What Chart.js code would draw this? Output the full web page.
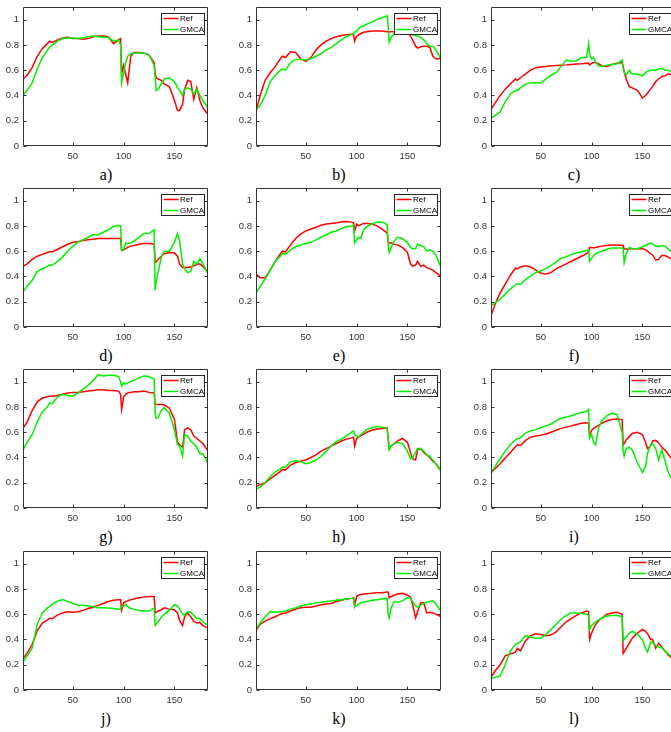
<!DOCTYPE html>
<html lang="en">
<head>
<meta charset="UTF-8">
<title>Ref vs GMCA spectra</title>
<script src="https://cdn.jsdelivr.net/npm/chart.js@4"></script>
<style>
  html, body { margin: 0; padding: 0; background: #fff; overflow: hidden; }
  #fig { position: relative; width: 671px; height: 732px; overflow: hidden; }
  .cell { position: absolute; }
  .tag { position: absolute; width: 40px; text-align: center; color: #000;
         font: 16px "Liberation Serif", "Times New Roman", serif; line-height: 16px; }
</style>
</head>
<body>
<div id="fig"></div>
<script>
// band index (x) shared by all panels
const bands = [1, 5, 10, 15, 20, 25, 27, 30, 35, 40,
  45, 50, 55, 60, 65, 70, 75, 80, 85, 90,
  95, 97, 98, 100, 102, 104, 107, 110, 115, 120,
  125, 130, 131, 132, 134, 137, 140, 145, 150, 153,
  155, 158, 160, 163, 166, 169, 172, 175, 178, 183]

const xTicks = [50, 100, 150]
const yTicks = [0, 0.2, 0.4, 0.6, 0.8, 1]
const legendLabels = ["Ref", "GMCA"]
const tags = ["a)", "b)", "c)", "d)", "e)", "f)", "g)", "h)", "i)", "j)", "k)", "l)"]

const aRef = [0.53,0.56,0.62,0.71,0.77,0.81,0.83,0.82,0.84,0.855, 0.86,0.85,0.85,0.845,0.85,0.865,0.87,0.87,0.865,0.81, 0.84,0.85,0.57,0.64,0.57,0.50,0.71,0.74,0.74,0.735, 0.72,0.66,0.57,0.54,0.53,0.52,0.49,0.47,0.36,0.28, 0.28,0.33,0.45,0.52,0.51,0.37,0.46,0.36,0.30,0.25]
const aGmca = [0.40,0.44,0.50,0.61,0.70,0.76,0.78,0.80,0.83,0.85, 0.855,0.855,0.85,0.855,0.865,0.87,0.865,0.86,0.86,0.83, 0.84,0.80,0.50,0.58,0.66,0.71,0.73,0.735,0.735,0.735, 0.72,0.64,0.55,0.44,0.45,0.49,0.53,0.54,0.51,0.46, 0.44,0.40,0.45,0.46,0.45,0.41,0.45,0.40,0.36,0.30]

const bRef = [0.27,0.40,0.52,0.58,0.63,0.69,0.71,0.70,0.745,0.74, 0.69,0.67,0.70,0.76,0.80,0.83,0.85,0.865,0.875,0.88, 0.885,0.88,0.83,0.87,0.88,0.89,0.90,0.905,0.91,0.91, 0.91,0.905,0.905,0.905,0.905,0.905,0.905,0.905,0.90,0.87, 0.84,0.79,0.775,0.785,0.79,0.79,0.78,0.71,0.69,0.69]
const bGmca = [0.29,0.32,0.40,0.51,0.56,0.60,0.61,0.60,0.66,0.685, 0.685,0.68,0.69,0.71,0.73,0.76,0.78,0.81,0.84,0.865, 0.885,0.89,0.90,0.91,0.93,0.945,0.95,0.965,0.98,1.0, 1.015,1.03,0.95,0.82,0.86,0.89,0.90,0.92,0.905,0.89, 0.88,0.875,0.87,0.86,0.84,0.81,0.79,0.79,0.76,0.69]

const cRef = [0.29,0.34,0.40,0.45,0.49,0.53,0.52,0.54,0.57,0.60, 0.62,0.625,0.63,0.635,0.637,0.64,0.642,0.645,0.648,0.65, 0.655,0.655,0.64,0.655,0.66,0.66,0.65,0.635,0.63,0.645, 0.655,0.66,0.63,0.59,0.53,0.47,0.46,0.44,0.38,0.40, 0.42,0.45,0.47,0.51,0.53,0.55,0.555,0.57,0.565,0.56]
const cGmca = [0.22,0.24,0.27,0.35,0.41,0.44,0.44,0.46,0.49,0.50, 0.50,0.50,0.53,0.56,0.58,0.63,0.68,0.67,0.675,0.70, 0.70,0.81,0.73,0.69,0.70,0.66,0.635,0.63,0.64,0.645, 0.65,0.68,0.62,0.58,0.56,0.60,0.57,0.57,0.555,0.58, 0.59,0.60,0.60,0.60,0.61,0.615,0.60,0.60,0.59,0.58]

const dRef = [0.48,0.50,0.535,0.56,0.575,0.59,0.595,0.595,0.615,0.635, 0.655,0.67,0.675,0.685,0.69,0.695,0.70,0.70,0.70,0.70, 0.70,0.70,0.605,0.61,0.62,0.63,0.64,0.645,0.655,0.66, 0.66,0.655,0.51,0.515,0.535,0.56,0.58,0.59,0.585,0.56, 0.50,0.47,0.47,0.47,0.475,0.485,0.495,0.50,0.48,0.43]
const dGmca = [0.28,0.32,0.37,0.44,0.46,0.48,0.49,0.49,0.52,0.555, 0.60,0.64,0.67,0.69,0.71,0.73,0.73,0.75,0.77,0.795, 0.805,0.80,0.61,0.615,0.665,0.66,0.665,0.68,0.71,0.74, 0.74,0.77,0.29,0.36,0.44,0.55,0.60,0.60,0.67,0.74, 0.68,0.50,0.46,0.43,0.44,0.52,0.50,0.54,0.50,0.42]

const eRef = [0.42,0.39,0.39,0.45,0.52,0.58,0.60,0.595,0.65,0.70, 0.735,0.76,0.775,0.79,0.805,0.815,0.82,0.825,0.83,0.835, 0.83,0.825,0.76,0.815,0.80,0.81,0.82,0.82,0.815,0.80, 0.775,0.745,0.67,0.665,0.665,0.655,0.65,0.63,0.59,0.50, 0.48,0.49,0.52,0.48,0.49,0.47,0.46,0.45,0.43,0.40]
const eGmca = [0.27,0.32,0.38,0.45,0.52,0.56,0.585,0.575,0.61,0.635, 0.65,0.66,0.67,0.69,0.71,0.73,0.75,0.76,0.78,0.795, 0.80,0.805,0.665,0.69,0.71,0.70,0.77,0.795,0.815,0.83, 0.83,0.81,0.66,0.59,0.63,0.68,0.71,0.70,0.67,0.63, 0.62,0.62,0.655,0.645,0.635,0.60,0.61,0.60,0.57,0.47]

const fRef = [0.09,0.18,0.27,0.34,0.41,0.465,0.46,0.475,0.485,0.475, 0.45,0.425,0.42,0.43,0.46,0.48,0.50,0.52,0.54,0.56, 0.58,0.595,0.63,0.63,0.625,0.63,0.635,0.64,0.645,0.648, 0.648,0.645,0.645,0.62,0.615,0.62,0.62,0.62,0.62,0.61, 0.60,0.58,0.57,0.53,0.535,0.565,0.565,0.555,0.54,0.53]
const fGmca = [0.17,0.19,0.22,0.26,0.30,0.335,0.34,0.34,0.375,0.405, 0.43,0.445,0.46,0.485,0.515,0.545,0.555,0.575,0.585,0.595, 0.605,0.61,0.52,0.545,0.565,0.58,0.59,0.60,0.615,0.625, 0.625,0.625,0.62,0.51,0.58,0.63,0.62,0.62,0.635,0.645, 0.655,0.665,0.655,0.64,0.635,0.645,0.64,0.62,0.60,0.58]

const gRef = [0.63,0.68,0.77,0.84,0.87,0.88,0.885,0.885,0.89,0.90, 0.91,0.915,0.915,0.92,0.925,0.93,0.935,0.935,0.93,0.93, 0.925,0.90,0.78,0.88,0.90,0.91,0.915,0.92,0.92,0.925, 0.915,0.91,0.82,0.82,0.82,0.82,0.815,0.79,0.70,0.52, 0.50,0.48,0.62,0.635,0.62,0.57,0.55,0.53,0.51,0.45]
const gGmca = [0.46,0.52,0.58,0.68,0.76,0.80,0.83,0.825,0.88,0.90, 0.89,0.885,0.91,0.94,0.97,1.01,1.055,1.045,1.05,1.05, 1.04,1.0,0.965,0.99,0.98,0.99,1.0,1.01,1.03,1.045, 1.04,1.02,0.75,0.71,0.72,0.77,0.795,0.75,0.62,0.50, 0.49,0.41,0.58,0.57,0.53,0.51,0.48,0.43,0.43,0.35]

const hRef = [0.17,0.185,0.20,0.23,0.26,0.29,0.305,0.30,0.34,0.36, 0.37,0.38,0.40,0.42,0.45,0.47,0.49,0.51,0.53,0.545, 0.555,0.56,0.49,0.55,0.56,0.57,0.585,0.60,0.615,0.625, 0.63,0.635,0.55,0.47,0.49,0.51,0.53,0.55,0.52,0.44, 0.39,0.38,0.46,0.47,0.44,0.42,0.40,0.37,0.35,0.30]
const hGmca = [0.15,0.165,0.20,0.25,0.285,0.31,0.325,0.325,0.365,0.375, 0.365,0.35,0.36,0.38,0.41,0.45,0.49,0.525,0.545,0.57, 0.60,0.61,0.58,0.57,0.56,0.58,0.60,0.62,0.635,0.645, 0.64,0.63,0.55,0.46,0.49,0.51,0.52,0.51,0.45,0.39, 0.395,0.44,0.47,0.47,0.45,0.42,0.41,0.38,0.35,0.29]

const iRef = [0.28,0.31,0.35,0.395,0.44,0.485,0.50,0.495,0.535,0.56, 0.57,0.575,0.585,0.60,0.615,0.63,0.64,0.65,0.66,0.67, 0.675,0.67,0.575,0.615,0.63,0.64,0.655,0.67,0.69,0.70, 0.705,0.70,0.50,0.51,0.54,0.565,0.59,0.60,0.58,0.52, 0.47,0.49,0.53,0.535,0.515,0.48,0.46,0.43,0.40,0.37]
const iGmca = [0.28,0.33,0.39,0.45,0.50,0.54,0.55,0.555,0.595,0.61, 0.62,0.635,0.65,0.665,0.69,0.71,0.72,0.73,0.745,0.755, 0.765,0.78,0.55,0.58,0.52,0.50,0.64,0.69,0.73,0.75, 0.74,0.60,0.45,0.41,0.47,0.48,0.46,0.36,0.28,0.33, 0.43,0.50,0.51,0.47,0.38,0.46,0.38,0.29,0.24,0.20]

const jRef = [0.25,0.29,0.36,0.47,0.53,0.555,0.565,0.565,0.595,0.61, 0.62,0.615,0.62,0.63,0.645,0.655,0.67,0.685,0.70,0.71, 0.715,0.715,0.63,0.69,0.70,0.705,0.715,0.72,0.73,0.735, 0.74,0.74,0.61,0.615,0.625,0.635,0.65,0.64,0.635,0.61, 0.55,0.51,0.58,0.61,0.58,0.545,0.53,0.535,0.51,0.49]
const jGmca = [0.22,0.27,0.33,0.52,0.61,0.65,0.66,0.68,0.705,0.715, 0.70,0.685,0.67,0.67,0.665,0.66,0.65,0.65,0.648,0.645, 0.64,0.64,0.66,0.665,0.68,0.66,0.645,0.64,0.63,0.625, 0.625,0.65,0.51,0.52,0.54,0.575,0.60,0.63,0.675,0.665, 0.64,0.60,0.59,0.62,0.615,0.59,0.565,0.565,0.54,0.51]

const kRef = [0.47,0.52,0.545,0.565,0.58,0.60,0.605,0.61,0.625,0.64, 0.65,0.655,0.655,0.665,0.675,0.68,0.685,0.70,0.71,0.72, 0.725,0.73,0.67,0.74,0.75,0.755,0.76,0.762,0.765,0.77, 0.77,0.775,0.775,0.73,0.74,0.75,0.76,0.765,0.75,0.735, 0.68,0.57,0.62,0.69,0.69,0.61,0.615,0.61,0.60,0.58]
const kGmca = [0.48,0.53,0.58,0.62,0.615,0.62,0.62,0.625,0.64,0.65, 0.665,0.675,0.68,0.69,0.695,0.70,0.705,0.71,0.715,0.72, 0.725,0.73,0.66,0.67,0.68,0.69,0.695,0.70,0.71,0.715, 0.72,0.725,0.60,0.57,0.65,0.70,0.695,0.705,0.73,0.725, 0.70,0.665,0.655,0.67,0.685,0.695,0.70,0.705,0.68,0.62]

const lRef = [0.10,0.15,0.20,0.27,0.285,0.30,0.33,0.31,0.39,0.43, 0.445,0.44,0.43,0.435,0.46,0.50,0.54,0.565,0.59,0.61, 0.625,0.62,0.40,0.45,0.49,0.52,0.55,0.57,0.60,0.61, 0.615,0.60,0.29,0.30,0.33,0.37,0.41,0.45,0.48,0.465, 0.445,0.40,0.40,0.33,0.37,0.34,0.31,0.28,0.26,0.24]
const lGmca = [0.09,0.10,0.11,0.20,0.31,0.36,0.37,0.38,0.43,0.42, 0.41,0.41,0.44,0.48,0.52,0.56,0.59,0.61,0.61,0.605, 0.60,0.59,0.48,0.51,0.525,0.54,0.555,0.57,0.585,0.59, 0.59,0.58,0.39,0.40,0.42,0.45,0.465,0.44,0.40,0.33, 0.30,0.38,0.38,0.35,0.34,0.335,0.31,0.285,0.27,0.25]

const refSeries = [aRef, bRef, cRef, dRef, eRef, fRef, gRef, hRef, iRef, jRef, kRef, lRef]
const gmcaSeries = [aGmca, bGmca, cGmca, dGmca, eGmca, fGmca, gGmca, hGmca, iGmca, jGmca, kGmca, lGmca]

// layout (px)
const colLeft = [23, 256, 491]
const rowTop = [7, 188, 369, 551]
const plotW = 185, plotH = 139
const padL = 30, padT = 4, padR = 4, padB = 20
const axisColor = "#333333"
const tickFont = { family: "'Liberation Sans', Arial, sans-serif", size: 9.5 }

const toPoints = (ys) => ys.map((y, i) => ({ x: bands[i], y }))

// box with inward ticks on all four sides, plus the legend inside the axes
const framePlugin = {
  id: "frame",
  afterDraw(chart) {
    const { ctx, chartArea: a, scales } = chart
    const L = a.left + 0.5, R = a.right - 0.5, T = a.top + 0.5, B = a.bottom - 0.5
    ctx.save()
    ctx.strokeStyle = axisColor
    ctx.lineWidth = 1
    ctx.beginPath()
    ctx.rect(L, T, R - L, B - T)
    for (const v of xTicks) {
      const px = Math.round(scales.x.getPixelForValue(v)) + 0.5
      ctx.moveTo(px, B); ctx.lineTo(px, B - 3)
      ctx.moveTo(px, T); ctx.lineTo(px, T + 3)
    }
    for (const v of yTicks) {
      const py = Math.round(scales.y.getPixelForValue(v)) + 0.5
      ctx.moveTo(L, py); ctx.lineTo(L + 3, py)
      ctx.moveTo(R, py); ctx.lineTo(R - 3, py)
    }
    ctx.stroke()

    // legend
    const bw = 43, bh = 21
    const bx = Math.round(a.right - 4.5 - bw) + 0.5, by = Math.round(a.top + 6) + 0.5
    ctx.fillStyle = "#fff"
    ctx.fillRect(bx, by, bw, bh)
    ctx.strokeStyle = "#262626"
    ctx.strokeRect(bx, by, bw, bh)
    ctx.font = "8px 'Liberation Sans', Arial, sans-serif"
    ctx.textBaseline = "middle"
    chart.data.datasets.slice().sort((p, q) => p.legendIndex - q.legendIndex).forEach((ds, k) => {
      const ly = by + 5 + k * 11
      ctx.strokeStyle = ds.borderColor
      ctx.lineWidth = 1.5
      ctx.beginPath(); ctx.moveTo(bx + 2, ly); ctx.lineTo(bx + 17, ly); ctx.stroke()
      ctx.fillStyle = "#000"
      ctx.fillText(legendLabels[ds.legendIndex], bx + 18.5, ly + 0.5)
    })
    ctx.restore()
  },
}

const fig = document.getElementById("fig")

tags.forEach((tag, p) => {
  const col = p % 3, row = Math.floor(p / 3)
  const cell = document.createElement("div")
  cell.className = "cell"
  cell.style.left = (colLeft[col] - padL) + "px"
  cell.style.top = (rowTop[row] - padT) + "px"
  const canvas = document.createElement("canvas")
  canvas.width = plotW + padL + padR
  canvas.height = plotH + padT + padB
  cell.appendChild(canvas)
  fig.appendChild(cell)

  const label = document.createElement("div")
  label.className = "tag"
  label.textContent = tag
  label.style.left = (colLeft[col] + plotW / 2 - 9.5 - 20) + "px"
  label.style.top = (rowTop[row] + 173 - 13) + "px"
  fig.appendChild(label)

  new Chart(canvas.getContext("2d"), {
    type: "line",
    data: {
      datasets: [
        { label: legendLabels[1], legendIndex: 1, data: toPoints(gmcaSeries[p]), borderColor: "#00f000", order: 1 },
        { label: legendLabels[0], legendIndex: 0, data: toPoints(refSeries[p]), borderColor: "#ff0000", order: 2 },
      ],
    },
    options: {
      responsive: false,
      animation: false,
      events: [],
      layout: { padding: { left: 0, top: padT, right: padR, bottom: 0 } },
      elements: {
        line: { borderWidth: 1.5, tension: 0, fill: false },
        point: { radius: 0 },
      },
      plugins: { legend: { display: false }, tooltip: { enabled: false } },
      scales: {
        x: {
          type: "linear",
          min: 1,
          max: 183,
          afterFit(s) { s.height = padB; s.paddingLeft = 0; s.paddingRight = 0 },
          afterBuildTicks(s) { s.ticks = xTicks.map((v) => ({ value: v })) },
          grid: { display: false, drawTicks: false },
          border: { display: false },
          ticks: { padding: 5, font: tickFont, color: axisColor, maxRotation: 0, autoSkip: false },
        },
        y: {
          min: 0,
          max: 1.1,
          afterFit(s) { s.width = padL; s.paddingTop = 0; s.paddingBottom = 0 },
          afterBuildTicks(s) { s.ticks = yTicks.map((v) => ({ value: v })) },
          grid: { display: false, drawTicks: false },
          border: { display: false },
          ticks: {
            padding: 4,
            font: tickFont,
            color: axisColor,
            callback: (v) => String(Math.round(v * 10) / 10),
          },
        },
      },
    },
    plugins: [framePlugin],
  })
})
</script>
</body>
</html>
